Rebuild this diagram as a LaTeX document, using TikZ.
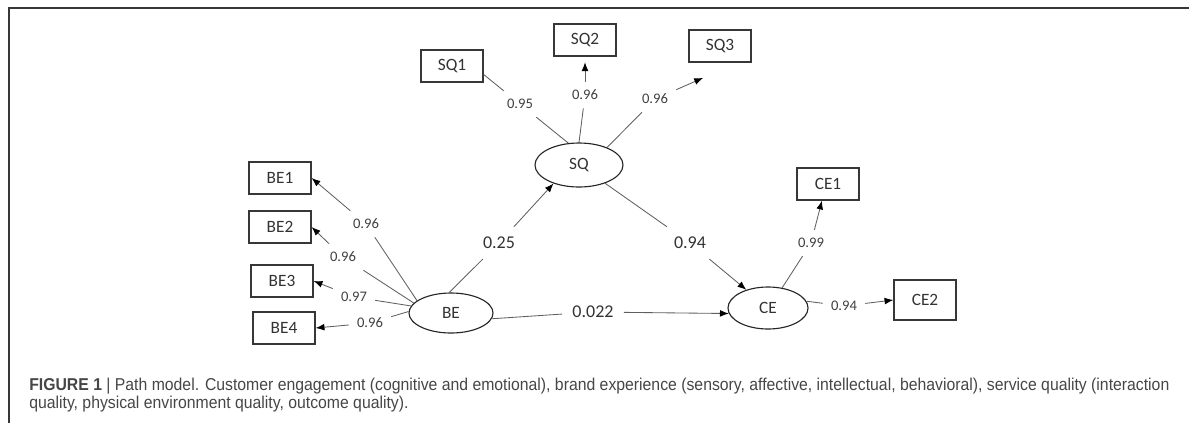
\documentclass[tikz,border=0pt]{standalone}
\usepackage{fontspec}
\setmainfont{Carlito}
\newfontfamily\capfont[FakeStretch=0.92]{Liberation Sans}
\usetikzlibrary{arrows.meta,shapes.geometric}
\definecolor{linkgray}{RGB}{95, 95, 95}
\definecolor{boxgray} {RGB}{55, 55, 55}
\definecolor{capgray} {RGB}{70, 70, 70}

\begin{document}
\begin{tikzpicture}[x=0.025cm, y=-0.025cm,
  >={Latex[length=2.2mm, width=1.7mm, color=black]},
  every node/.style={font=\fontsize{12.3}{14}\selectfont, text=black!80},
  manifest/.style={draw=boxgray, line width=0.9pt,
    minimum width=1.55cm, minimum height=0.8cm, inner sep=0pt},
  latent/.style={ellipse, draw=black!85, line width=0.8pt,
    minimum width=2.1cm, minimum height=1.05cm, inner sep=0pt},
  loading/.style={font=\fontsize{10.4}{12}\selectfont, text=black!75, inner sep=0.2cm},
  coef/.style={font=\fontsize{12.8}{15}\selectfont, inner sep=0.25cm},
  link/.style={draw=linkgray, line width=0.6pt},
]
\useasboundingbox (0,0) rectangle (1189,423);

% ── frame ───────────────────────────────────────────────────
\draw[boxgray, line width=1pt] (1189,8) -- (9,8) -- (9,423);

% ── latent variables ────────────────────────────────────────
\node[latent, minimum width=2.2cm, minimum height=1.1cm] (sq) at (579,165) {SQ};
\node[latent, minimum height=1cm] (be) at (451,313) {BE};
\node[latent, minimum width=2cm] (ce) at (768,308) {CE};

% ── indicators ──────────────────────────────────────────────
\node[manifest] (sq1) at (452,66) {SQ1};
\node[manifest] (sq2) at (585,40) {SQ2};
\node[manifest] (sq3) at (720,46) {SQ3};
\node[manifest] (be1) at (280,178) {BE1};
\node[manifest] (be2) at (280,227) {BE2};
\node[manifest] (be3) at (282,281) {BE3};
\node[manifest] (be4) at (284,328) {BE4};
\node[manifest] (ce1) at (828,184) {CE1};
\node[manifest, minimum height=1cm] (ce2) at (925,300) {CE2};

% ── loadings / path coefficients ────────────────────────────
\node[loading] (lsq1) at (520,104) {0.95};
\node[loading] (lsq2) at (585,95)  {0.96};
\node[loading] (lsq3) at (655,99)  {0.96};
\node[loading] (lbe1) at (366,224) {0.96};
\node[loading] (lbe2) at (343,257) {0.96};
\node[loading] (lbe3) at (354,297) {0.97};
\node[loading] (lbe4) at (370,323) {0.96};
\node[loading] (lce1) at (811,243) {0.99};
\node[loading] (lce2) at (844,306) {0.94};
\node[coef] (cbs) at (499,243) {0.25};
\node[coef] (csc) at (690,243) {0.94};
\node[coef] (cbc) at (593,312) {0.022};

% SQ measurement
\draw[link] (sq.116) -- (lsq1);
\draw[link] (lsq1) -- (sq1.-15);
\draw[link] (sq.north) -- (lsq2);
\draw[link, ->, shorten >=4pt] (lsq2) -- (sq2);
\draw[link] (sq.32) -- (lsq3);
\draw[link, ->, shorten >=0.95cm] (lsq3) -- (sq3.-43);

% BE measurement
\draw[link] (be.160) -- (lbe1);
\draw[link, ->] (lbe1) -- (be1.east);
\draw[link] (be.165) -- (lbe2);
\draw[link, ->] (lbe2) -- (be2.east);
\draw[link] (be.170) -- (lbe3);
\draw[link, ->] (lbe3) -- (be3.east);
\draw[link] (be.178) -- (lbe4);
\draw[link, ->] (lbe4) -- (be4.east);

% CE measurement
\draw[link] (ce.55) -- (lce1);
\draw[link, ->] (lce1) -- (ce1.-110);
\draw[link] (ce.10) -- (lce2);
\draw[link, ->] (lce2) -- (ce2.west);

% structural paths
\draw[link] (be.95) -- (cbs);
\draw[link, ->] (cbs) -- (sq.-144);
\draw[link] (sq.-35) -- (csc);
\draw[link, ->] (csc) -- (ce.140);
\draw[link] (be.-8) -- (cbc);
\draw[link, ->] (cbc) -- (ce.188);

% ── caption ─────────────────────────────────────────────────
\node[anchor=base west, inner sep=0, text=capgray,
  font=\capfont\fontsize{12.2}{14}\selectfont] (cap1) at (29,390)
  {\textbf{FIGURE 1} | Path model. Customer engagement (cognitive and emotional), brand experience (sensory, affective, intellectual, behavioral), service quality (interaction};
\node[anchor=base west, inner sep=0, text=capgray,
  font=\capfont\fontsize{12.2}{14}\selectfont] (cap2) at (29,408)
  {quality, physical environment quality, outcome quality).};

\end{tikzpicture}
\end{document}
